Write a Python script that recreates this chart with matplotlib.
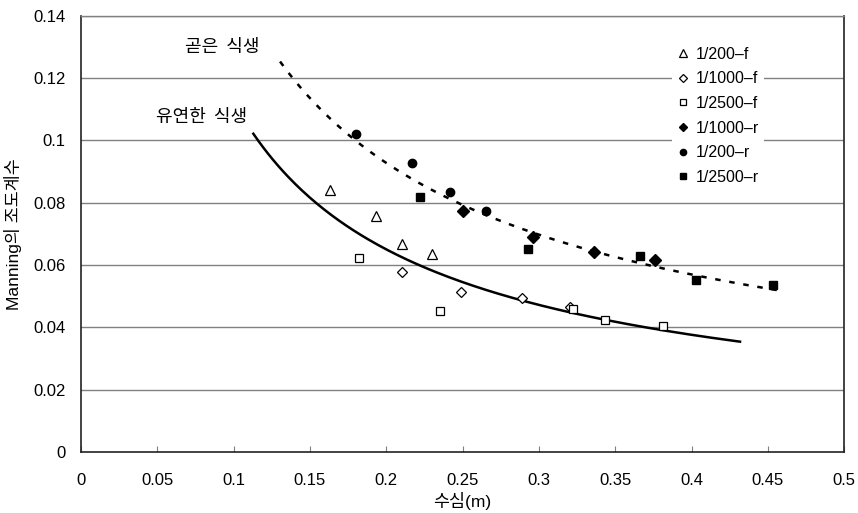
import numpy as np
import matplotlib
matplotlib.use("Agg")
import matplotlib.pyplot as plt

plt.rcParams['font.family'] = ['Liberation Sans', 'Noto Sans CJK KR', 'DejaVu Sans']

# ---- data (depth h [m], Manning n) ----
f200_h = [0.163, 0.193, 0.210, 0.230]
f200_n = [0.0841, 0.0758, 0.0667, 0.0634]
f1000_h = [0.210, 0.249, 0.289, 0.320]
f1000_n = [0.0579, 0.0512, 0.0495, 0.0466]
f2500_h = [0.182, 0.235, 0.322, 0.343, 0.381]
f2500_n = [0.0623, 0.0452, 0.0458, 0.0423, 0.0404]
r1000_h = [0.250, 0.296, 0.336, 0.376]
r1000_n = [0.0772, 0.0689, 0.0642, 0.0616]
r200_h = [0.180, 0.217, 0.242, 0.265]
r200_n = [0.1021, 0.0928, 0.0835, 0.0773]
r2500_h = [0.222, 0.293, 0.366, 0.403, 0.4535]
r2500_n = [0.0817, 0.0651, 0.0629, 0.0552, 0.0537]

# power-law trend lines n = a * h^b
flex_a, flex_b, flex_range = 0.018236, -0.7898, (0.1129, 0.4317)
rigid_a, rigid_b, rigid_range = 0.029896, -0.7034, (0.1304, 0.459)

x_ticks = [0, 0.05, 0.1, 0.15, 0.2, 0.25, 0.3, 0.35, 0.4, 0.45, 0.5]
y_ticks = [0, 0.02, 0.04, 0.06, 0.08, 0.1, 0.12, 0.14]

fig = plt.figure(figsize=(8.58, 5.13), dpi=100)
ax = fig.add_axes([81/858, 1-452/513, (844.3-81)/858, (452-15.7)/513])

grid_c = '#808080'
for y in y_ticks[1:]:
    ax.axhline(y, color=grid_c, lw=1.0, zorder=0)

h1 = np.linspace(*flex_range, 200)
ax.plot(h1, flex_a * h1 ** flex_b, color='black', lw=1.8, zorder=2)
h2 = np.linspace(*rigid_range, 200)
ax.plot(h2, rigid_a * h2 ** rigid_b, color='black', lw=1.8, ls=(0, (2.2, 3.5)), zorder=2)

mk = dict(ls='none', color='black', zorder=3)
ax.plot(f200_h, f200_n, marker='^', ms=7, mfc='white', mew=0.9, label='1/200–f', **mk)
ax.plot(f1000_h, f1000_n, marker='D', ms=5, mfc='white', mew=0.9, label='1/1000–f', **mk)
ax.plot(f2500_h, f2500_n, marker='s', ms=6, mfc='white', mew=0.9, label='1/2500–f', **mk)
ax.plot(r1000_h, r1000_n, marker='D', ms=6, label='1/1000–r', **mk)
ax.plot(r200_h, r200_n, marker='o', ms=6, label='1/200–r', **mk)
ax.plot(r2500_h, r2500_n, marker='s', ms=6, label='1/2500–r', **mk)

ax.set_xlim(0, 0.5)
ax.set_ylim(0, 0.14)
ax.set_xticks(x_ticks)
ax.set_xticklabels([f"{t:g}" for t in x_ticks])
ax.set_yticks(y_ticks)
ax.set_yticklabels([f"{t:g}" for t in y_ticks])
ax.tick_params(axis='x', direction='in', length=4, color=grid_c, labelsize=12, pad=15)
ax.tick_params(axis='y', length=0, labelsize=12, pad=11)
for s in ['left', 'bottom', 'right']:
    ax.spines[s].set_color('#222222')
    ax.spines[s].set_linewidth(1.2)
ax.spines['top'].set_color(grid_c)
ax.spines['top'].set_linewidth(1.0)

ax.set_xlabel('수심(m)', fontsize=12.5, labelpad=3)
ax.set_ylabel('Manning의 조도계수', fontsize=12.5, labelpad=8)

ax.text(0.0924, 0.130, '곧은  식생', fontsize=13, ha='center', va='center',
        family=['Noto Sans CJK KR'])
ax.text(0.0790, 0.1075, '유연한  식생', fontsize=13, ha='center', va='center',
        family=['Noto Sans CJK KR'])

leg = ax.legend(loc='upper left', bbox_to_anchor=((672-81)/(844.3-81), 1-(42-15.7)/(452-15.7)),
                frameon=True, facecolor='white', edgecolor='none', framealpha=1,
                fontsize=11.5, markerscale=0.75, handlelength=0.8, handletextpad=0.4,
                labelspacing=0.6, borderpad=0.3, borderaxespad=0)
leg.get_frame().set_boxstyle('square', pad=0)

fig.savefig('out.png', dpi=100)
